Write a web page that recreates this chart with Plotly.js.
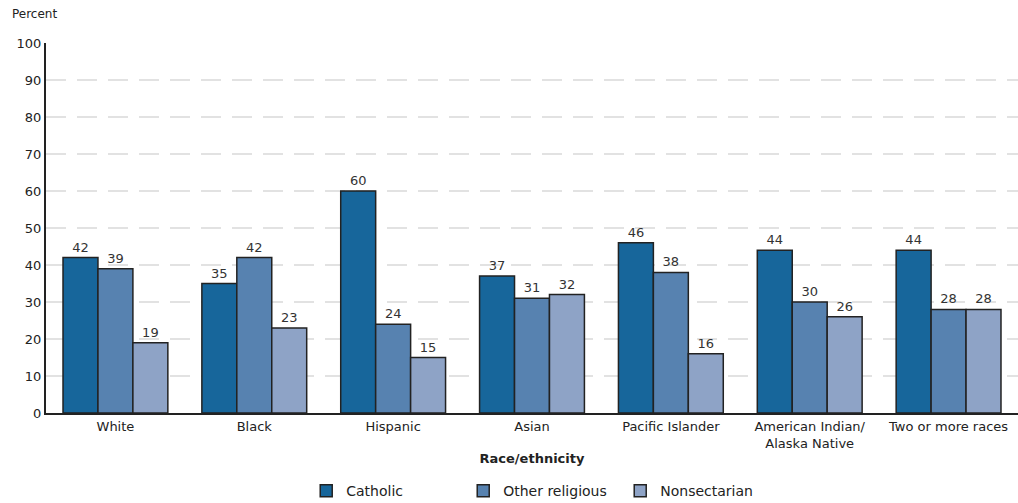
<!DOCTYPE html>
<html>
<head>
<meta charset="utf-8">
<script src="https://cdn.plot.ly/plotly-3.0.1.min.js"></script>
<style>html,body{margin:0;padding:0;background:#fff;}#chart{width:1018px;height:503px;}</style>
</head>
<body>
<div id="chart"></div>
<script>
const categories = ["White", "Black", "Hispanic", "Asian", "Pacific Islander", "American Indian/<br>Alaska Native", "Two or more races"];
const catholic = [42, 35, 60, 37, 46, 44, 44];
const otherReligious = [39, 42, 24, 31, 38, 30, 28];
const nonsectarian = [19, 23, 15, 32, 16, 26, 28];
const seriesNames = ["Catholic", "Other religious", "Nonsectarian"];
const colors = ["#17669b", "#5782b0", "#8ea3c6"];
const yTicks = [0, 10, 20, 30, 40, 50, 60, 70, 80, 90, 100];

const FONT = "DejaVu Sans, Verdana, sans-serif";
const series = [catholic, otherReligious, nonsectarian];
const traces = series.map((vals, i) => ({
  type: "bar",
  name: seriesNames[i],
  x: categories,
  y: vals,
  text: vals.map(String),
  textposition: "outside",
  cliponaxis: false,
  textfont: {family: FONT, size: 13, color: "#333"},
  marker: {color: colors[i], line: {color: "#222", width: 1.5}},
  hoverinfo: "skip"
}));

const layout = {
  width: 1018, height: 503,
  margin: {l: 46, r: 0, t: 43, b: 90, autoexpand: false},
  paper_bgcolor: "#fff", plot_bgcolor: "#fff",
  font: {family: FONT, size: 13, color: "#222"},
  barmode: "group",
  bargap: 0.245,
  bargroupgap: 0,
  showlegend: true,
  legend: {orientation: "h", x: 0.51, xanchor: "center", y: -0.211, yanchor: "middle",
           entrywidth: 112, entrywidthmode: "pixels",
           font: {family: FONT, size: 14, color: "#222"}, traceorder: "normal"},
  xaxis: {
    type: "category",
    automargin: false,
    showline: true, linecolor: "#222", linewidth: 2,
    ticks: "", showgrid: false,
    tickfont: {family: FONT, size: 13, color: "#222"},
    title: {text: "Race/ethnicity", font: {family: FONT, size: 13, color: "#222", weight: "bold"}, standoff: 4}
  },
  yaxis: {
    range: [0, 100],
    automargin: false,
    tickvals: yTicks,
    ticktext: yTicks.map(String),
    showline: true, linecolor: "#222", linewidth: 2,
    ticks: "", ticklen: 0,
    showgrid: true, gridcolor: "#e2e2e2", gridwidth: 1.5, griddash: "20px,11px",
    zeroline: false,
    tickfont: {family: FONT, size: 13, color: "#222"}
  },
  annotations: [{
    text: "Percent", xref: "paper", yref: "paper", x: -0.037, y: 1.055,
    xanchor: "left", yanchor: "bottom", showarrow: false,
    font: {family: FONT, size: 12, color: "#222"}
  }]
};

Plotly.newPlot("chart", traces, layout, {displayModeBar: false, staticPlot: true});
</script>
</body>
</html>
